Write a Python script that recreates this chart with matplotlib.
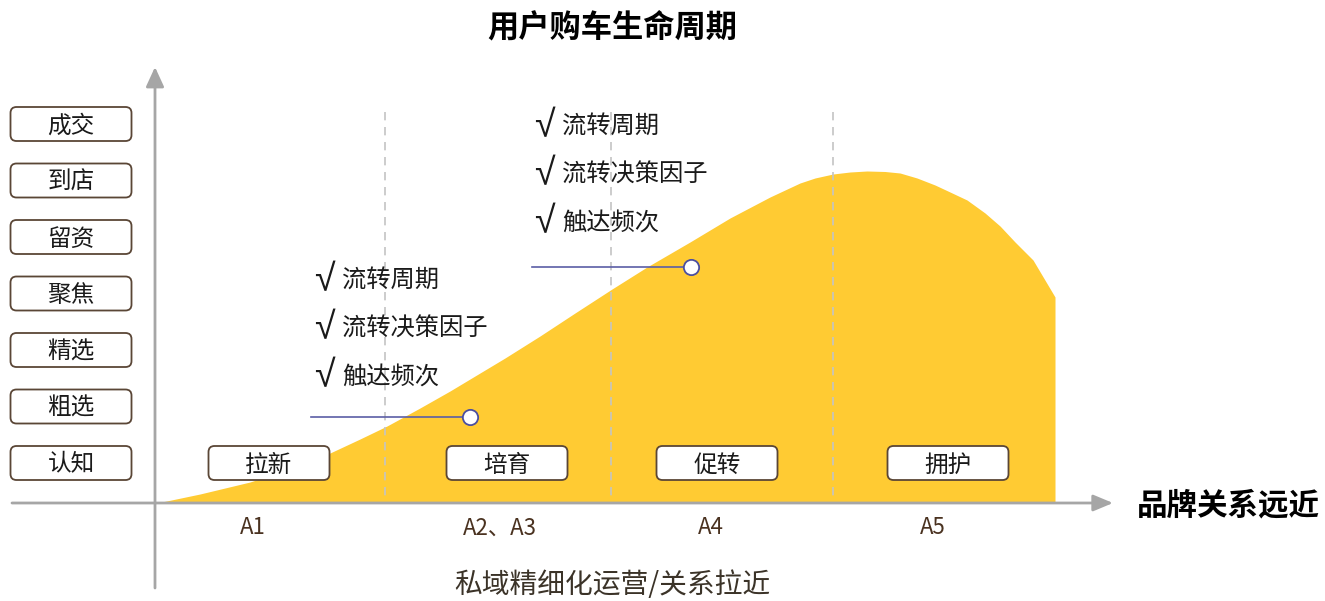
import matplotlib.pyplot as plt
from matplotlib.patches import FancyBboxPatch

plt.rcParams['font.family'] = ['Noto Sans CJK SC', 'DejaVu Sans']

# data (pixel-like units, y grows downward)
curve_x = [157, 200, 250, 290, 330, 360, 387, 420, 450, 480, 505, 540, 575, 612, 647,
           690, 730, 770, 785, 800, 815, 833, 850, 867, 885, 900, 917, 935, 950, 967,
           985, 1000, 1015, 1033, 1055]
curve_y = [503, 494, 482, 469, 453, 439, 426, 408, 391, 373, 358, 336, 313, 289, 267,
           242, 218, 197, 190, 183, 178, 174, 172, 171, 171.5, 173, 178, 185, 192, 200,
           213, 226, 242, 260, 297]
funnel_labels = ['成交', '到店', '留资', '聚焦', '精选', '粗选', '认知']
stage_labels = ['拉新', '培育', '促转', '拥护']
phase_labels = ['A1', 'A2、A3', 'A4', 'A5']
checklist = ['流转周期', '流转决策因子', '触达频次']

fig = plt.figure(figsize=(13.25, 6.01), dpi=100)
ax = fig.add_axes([0, 0, 1, 1])
ax.set_xlim(0, 1325)
ax.set_ylim(601, 0)
ax.axis('off')

base = 503
ax.fill_between(curve_x, curve_y, base, color='#FFCB33', lw=0, zorder=1)

# dashed dividers
for x in [385, 611, 833]:
    ax.plot([x, x], [112, base], color='#c4c4c4', lw=1.2, ls=(0, (5, 4)), zorder=2)

# axes arrows
ax.annotate('', xy=(155, 67), xytext=(155, 588),
            arrowprops=dict(arrowstyle='-|>,head_length=1.2,head_width=0.55',
                            color='#a6a6a6', lw=2, shrinkA=0, shrinkB=0), zorder=3)
ax.annotate('', xy=(1113, base), xytext=(12, base),
            arrowprops=dict(arrowstyle='-|>,head_length=1.2,head_width=0.5',
                            color='#a6a6a6', lw=2, shrinkA=0, shrinkB=0), zorder=3)

ax.text(612, 27, '用户购车生命周期', fontsize=22.5, fontweight='bold', ha='center', va='center')
ax.text(1228, 505, '品牌关系远近', fontsize=22, fontweight='bold', ha='center', va='center')
ax.text(612, 585, '私域精细化运营/关系拉近', fontsize=20, color='#3b3328', ha='center', va='center')

def box(cx, cy, label):
    w, h = 121, 34
    p = FancyBboxPatch((cx - w / 2, cy - h / 2), w, h,
                       boxstyle='round,pad=0,rounding_size=6',
                       fc='white', ec='#5a4636', lw=1.3, zorder=4)
    ax.add_patch(p)
    ax.text(cx, cy + 2, label, fontsize=17, ha='center', va='center', color='#1a1a1a', zorder=5)

for i, lab in enumerate(funnel_labels):
    box(71, 124 + i * 56.5, lab)

for cx, lab in zip([269, 507, 717, 948], stage_labels):
    box(cx, 463, lab)

for cx, lab in zip([253, 500, 711, 933], phase_labels):
    ax.text(cx, 528, lab, fontsize=16, fontweight='medium', color='#4a3220',
            ha='center', va='center')

# check lists with pointers
for tx, ty, lx, ly in [(314, 281, 311, 417), (534, 127, 532, 267)]:
    for j, t in enumerate(checklist):
        y = ty + j * 48
        ax.text(tx, y, '√', fontsize=27, ha='left', va='center', color='#1a1a1a',
                family=['Liberation Sans', 'DejaVu Sans'], zorder=5)
        ax.text(tx + 28, y, t, fontsize=17.5, ha='left', va='center', color='#1a1a1a', zorder=5)
    ax.plot([lx, lx + 159], [ly, ly], color='#5b5ea6', lw=1.2, zorder=5)
    ax.plot([lx + 159], [ly], 'o', ms=11, mfc='white', mec='#4b4fa0', mew=1.3, zorder=6)

fig.savefig('out.png', dpi=100)
